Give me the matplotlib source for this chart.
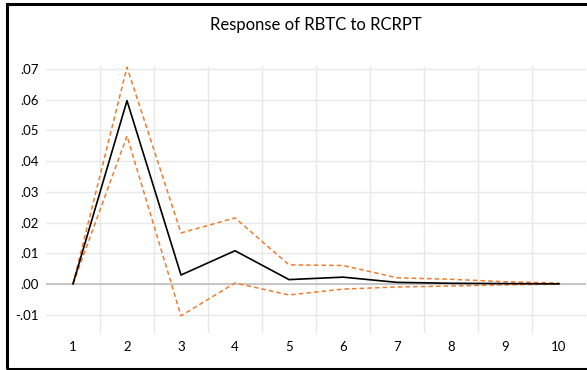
import matplotlib.pyplot as plt
from matplotlib.patches import Rectangle

periods = [1, 2, 3, 4, 5, 6, 7, 8, 9, 10]
response = [0.0, 0.0597, 0.0029, 0.0108, 0.0014, 0.0022, 0.0005, 0.0002, 0.0001, 0.0]
upper = [0.0, 0.0706, 0.0166, 0.0215, 0.0062, 0.0060, 0.0020, 0.0015, 0.0007, 0.0003]
lower = [0.0, 0.0482, -0.0104, 0.0003, -0.0036, -0.0017, -0.0010, -0.0007, -0.0003, -0.0001]
y_ticks = [-0.01, 0.0, 0.01, 0.02, 0.03, 0.04, 0.05, 0.06, 0.07]
y_labels = ["-.01", ".00", ".01", ".02", ".03", ".04", ".05", ".06", ".07"]

plt.rcParams['font.family'] = ['Lato', 'DejaVu Sans']

W, H = 587, 370
fig = plt.figure(figsize=(W / 100, H / 100), dpi=100)

# outer frame (right edge is cropped in the reference)
fig.patches.append(Rectangle((7 / W, 1.5 / H), 1.0, (366 - 1.5) / H,
                             transform=fig.transFigure, fill=False,
                             edgecolor='black', linewidth=2.2))

ax = fig.add_axes([46 / W, (H - 333) / H, (586 - 46) / W, (333 - 66) / H])

for x in [p + 0.5 for p in periods[:-1]]:
    ax.axvline(x, color='#e8e8e8', linewidth=1.0, zorder=0)
for y in y_ticks:
    ax.axhline(y, color='#e8e8e8', linewidth=1.0, zorder=0)
ax.axhline(0, color='#bfbfbf', linewidth=1.2, zorder=1)

ax.plot(periods, upper, color='#ED7D31', linestyle=(0, (3, 2)), linewidth=1.1, zorder=3)
ax.plot(periods, lower, color='#ED7D31', linestyle=(0, (3, 2)), linewidth=1.1, zorder=3)
ax.plot(periods, response, color='black', linewidth=1.2, zorder=4)

ax.set_xlim(0.5, 10.5)
ax.set_ylim(-0.016, 0.071)
ax.set_xticks(periods)
ax.set_xticklabels([str(p) for p in periods])
ax.set_yticks(y_ticks)
ax.set_yticklabels(y_labels)
ax.tick_params(length=0, labelsize=9.5, colors='black')
ax.tick_params(axis='x', pad=6)
ax.tick_params(axis='y', pad=5)
for s in ax.spines.values():
    s.set_visible(False)

ax.set_title("Response of RBTC to RCRPT", fontsize=12, pad=26)

fig.savefig("out.png", dpi=100)
